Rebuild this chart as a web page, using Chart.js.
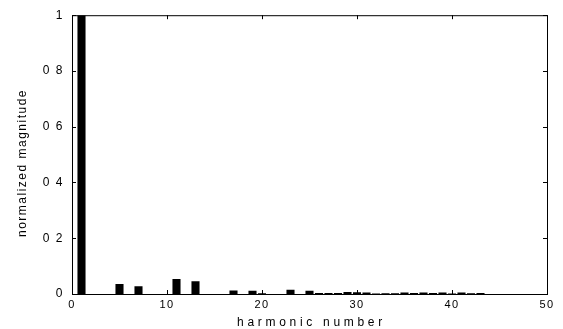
<!DOCTYPE html>
<html>
<head>
<meta charset="utf-8">
<script src="https://cdn.jsdelivr.net/npm/chart.js@4/dist/chart.umd.min.js"></script>
<style>
  html, body { margin: 0; padding: 0; background: #fff; }
</style>
</head>
<body>
<canvas id="chart" width="563" height="329"></canvas>
<script>
// harmonic spectrum, normalized to the fundamental
const harmonics = [
  0, 1, 2, 3, 4, 5, 6, 7, 8, 9, 10,
  11, 12, 13, 14, 15, 16, 17, 18, 19, 20,
  21, 22, 23, 24, 25, 26, 27, 28, 29, 30,
  31, 32, 33, 34, 35, 36, 37, 38, 39, 40,
  41, 42, 43, 44, 45, 46, 47, 48, 49, 50,
];
const magnitudes = [
  0, 1, 0, 0, 0, 0.036, 0, 0.028, 0, 0, 0,
  0.054, 0, 0.046, 0, 0, 0, 0.013, 0, 0.012, 0.003,
  0, 0, 0.015, 0, 0.012, 0.004, 0.004, 0.004, 0.007, 0.006,
  0.005, 0.002, 0.003, 0.003, 0.005, 0.004, 0.005, 0.004, 0.005, 0.002,
  0.005, 0.003, 0.004, 0, 0, 0, 0, 0, 0, 0,
];
const xTicks = [0, 10, 20, 30, 40, 50];
const yTicks = [0, 0.2, 0.4, 0.6, 0.8, 1];
const yTickLabels = ['0', '0 2', '0 4', '0 6', '0 8', '1'];
const xTitle = 'harmonic number';
const yTitle = 'normalized magnitude';

const FONT = '"Liberation Sans", Arial, sans-serif';

// matlab style box with inward ticks + axis titles
const boxPlugin = {
  id: 'box',
  beforeDraw(chart) {
    chart.ctx.letterSpacing = '1.5px';
  },
  afterDraw(chart) {
    const { ctx, chartArea: a, scales } = chart;
    const tl = 4;
    ctx.save();
    ctx.strokeStyle = '#000';
    ctx.lineWidth = 1;
    ctx.strokeRect(a.left + 0.5, a.top + 0.5, a.right - a.left, a.bottom - a.top);
    ctx.beginPath();
    xTicks.forEach((t) => {
      const px = Math.round(scales.x.getPixelForValue(harmonics.indexOf(t))) + 0.5;
      ctx.moveTo(px, a.bottom);
      ctx.lineTo(px, a.bottom - tl);
      ctx.moveTo(px, a.top);
      ctx.lineTo(px, a.top + tl);
    });
    yTicks.forEach((t) => {
      const py = Math.round(scales.y.getPixelForValue(t)) + 0.5;
      ctx.moveTo(a.left, py);
      ctx.lineTo(a.left + tl, py);
      ctx.moveTo(a.right, py);
      ctx.lineTo(a.right - tl, py);
    });
    ctx.stroke();

    ctx.fillStyle = '#000';
    ctx.textAlign = 'center';
    ctx.textBaseline = 'middle';
    ctx.letterSpacing = '3.7px';
    ctx.font = '12px ' + FONT;
    ctx.fillText(xTitle, (a.left + a.right) / 2 + 2, 323);
    ctx.letterSpacing = '1.5px';
    ctx.translate(23, 163);
    ctx.rotate(-Math.PI / 2);
    ctx.fillText(yTitle, 0, 0);
    ctx.restore();
  },
};

new Chart(document.getElementById('chart'), {
  type: 'bar',
  data: {
    labels: harmonics.map(String),
    datasets: [
      {
        data: magnitudes,
        backgroundColor: '#000000',
        borderWidth: 0,
        barPercentage: 0.85,
        categoryPercentage: 1,
      },
    ],
  },
  options: {
    responsive: false,
    animation: false,
    devicePixelRatio: 1,
    layout: {
      padding: { left: 0, top: 15, right: 16, bottom: 0 },
    },
    plugins: {
      legend: { display: false },
      tooltip: { enabled: false },
    },
    scales: {
      x: {
        type: 'category',
        offset: false,
        grid: { display: false, drawTicks: false },
        border: { display: false },
        afterFit: (scale) => {
          scale.height = 35;
        },
        ticks: {
          autoSkip: false,
          maxRotation: 0,
          padding: 4,
          color: '#000',
          font: { size: 11, family: FONT },
          callback: (value, index) =>
            xTicks.includes(harmonics[index]) ? String(harmonics[index]) : '',
        },
      },
      y: {
        min: 0,
        max: 1,
        grid: { display: false, drawTicks: false },
        border: { display: false },
        afterFit: (scale) => {
          scale.width = 72;
        },
        ticks: {
          stepSize: 0.2,
          padding: 8,
          color: '#000',
          font: { size: 12, family: FONT },
          callback: (value, index) => yTickLabels[index],
        },
      },
    },
  },
  plugins: [boxPlugin],
});
</script>
</body>
</html>
